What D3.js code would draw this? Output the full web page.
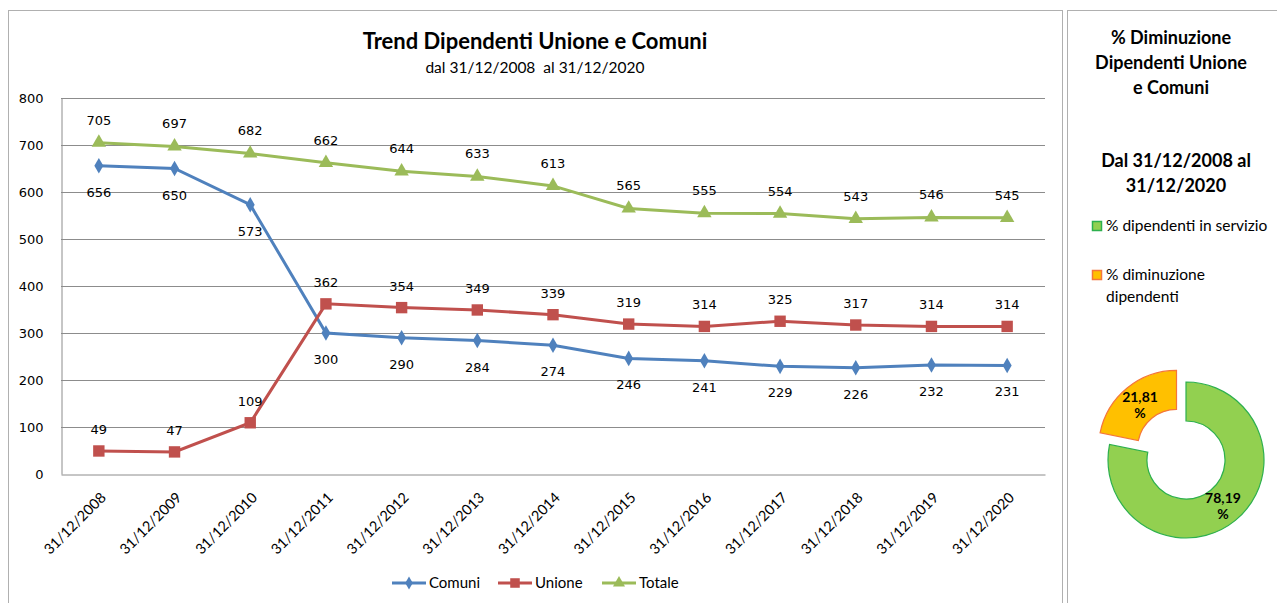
<!DOCTYPE html>
<html>
<head>
<meta charset="utf-8">
<script src="https://cdn.jsdelivr.net/npm/d3@7"></script>
<style>
  body { margin: 0; background: #fff; }
  svg { display: block; }
  text { font-family: "DejaVu Sans", Verdana, sans-serif; fill: #000; }
  .ttl { font-family: Lato, "Open Sans", sans-serif; font-weight: bold; }
  .sub { font-family: Lato, "Open Sans", sans-serif; }
</style>
</head>
<body>
<svg id="chart" width="1277" height="603"></svg>
<script>
// dates on x axis
const dates = ["31/12/2008","31/12/2009","31/12/2010","31/12/2011","31/12/2012","31/12/2013",
  "31/12/2014","31/12/2015","31/12/2016","31/12/2017","31/12/2018","31/12/2019","31/12/2020"];
const comuni = [656, 650, 573, 300, 290, 284, 274, 246, 241, 229, 226, 232, 231];
const unione = [49, 47, 109, 362, 354, 349, 339, 319, 314, 325, 317, 314, 314];
const totale = [705, 697, 682, 662, 644, 633, 613, 565, 555, 554, 543, 546, 545];
const yTicks = [0, 100, 200, 300, 400, 500, 600, 700, 800];

// donut
const pieLabels = ["% dipendenti in servizio", "% diminuzione dipendenti"];
const pieValues = [78.19, 21.81];

const svg = d3.select("#chart");

// panel borders
svg.append("rect").attr("x", 8.5).attr("y", 10.5).attr("width", 1054).attr("height", 600)
  .attr("fill", "none").attr("stroke", "#b0b0b0");
svg.append("rect").attr("x", 1067.5).attr("y", 10.5).attr("width", 220).attr("height", 600)
  .attr("fill", "none").attr("stroke", "#b0b0b0");

// titles
svg.append("text").attr("class", "ttl").attr("x", 535).attr("y", 49)
  .attr("text-anchor", "middle").style("font-size", "22px").text("Trend Dipendenti Unione e Comuni");
svg.append("text").attr("class", "sub").attr("x", 535).attr("y", 73)
  .attr("text-anchor", "middle").style("font-size", "15.5px").style("white-space", "pre")
  .text("dal 31/12/2008  al 31/12/2020");

const margin = {left: 61, top: 98, right: 1045, bottom: 474};

let x = d3.scaleBand().domain(dates).range([margin.left, margin.right]);
let y = d3.scaleLinear().domain([0, 800]).range([margin.bottom, margin.top]);
let cx = d => x(d) + x.bandwidth() / 2;

// gridlines
svg.append("g").selectAll("line").data(yTicks.slice(1)).join("line")
  .attr("x1", margin.left).attr("x2", margin.right)
  .attr("y1", d => y(d) + 0.5).attr("y2", d => y(d) + 0.5)
  .attr("stroke", "#8c8c8c").attr("stroke-width", 1);

// y axis
let yAxis = d3.axisLeft(y).tickValues(yTicks).tickSize(0).tickPadding(18);
let gy = svg.append("g").attr("transform", "translate(" + (margin.left + 0.5) + ",0)").call(yAxis);
gy.select(".domain").attr("stroke", "#8c8c8c");
gy.selectAll("text").style("font-size", "13px").style("font-family", "DejaVu Sans").attr("fill", "#111");

// x axis
let xAxis = d3.axisBottom(x).tickSize(0);
let gx = svg.append("g").attr("transform", "translate(0," + (margin.bottom + 0.5) + ")").call(xAxis);
gx.select(".domain").attr("stroke", "#8c8c8c");
gx.selectAll("text").style("font-size", "14.5px").style("font-family", "Lato, sans-serif")
  .attr("text-anchor", "end").attr("x", 0).attr("y", 0).attr("dy", 0)
  .attr("transform", "translate(8,24) rotate(-45)");

const series = [
  {name: "Comuni", values: comuni, color: "#4F81BD", shape: d3.symbolDiamond, size: 70, dy: 31},
  {name: "Unione", values: unione, color: "#C0504D", shape: d3.symbolSquare, size: 130, dy: -17},
  {name: "Totale", values: totale, color: "#9BBB59", shape: d3.symbolTriangle, size: 90, dy: -18}
];

let line = d3.line().x((d, i) => cx(dates[i])).y(d => y(d));

series.forEach(s => {
  svg.append("path").datum(s.values).attr("d", line)
    .attr("fill", "none").attr("stroke", s.color).attr("stroke-width", 3);
  svg.append("g").selectAll("path").data(s.values).join("path")
    .attr("d", d3.symbol().type(s.shape).size(s.size))
    .attr("transform", (d, i) => "translate(" + cx(dates[i]) + "," + y(d) + ")")
    .attr("fill", s.color);
  svg.append("g").selectAll("text").data(s.values).join("text")
    .attr("x", (d, i) => cx(dates[i])).attr("y", d => y(d) + s.dy)
    .attr("text-anchor", "middle").style("font-size", "13px").text(d => d);
});

// legend
let lg = svg.append("g");
let lx = [392, 498, 602];
series.forEach((s, i) => {
  lg.append("line").attr("x1", lx[i]).attr("x2", lx[i] + 34).attr("y1", 583).attr("y2", 583)
    .attr("stroke", s.color).attr("stroke-width", 3);
  lg.append("path").attr("d", d3.symbol().type(s.shape).size(s.size * 0.7))
    .attr("transform", "translate(" + (lx[i] + 17) + ",583)").attr("fill", s.color);
  lg.append("text").attr("class", "sub").attr("x", lx[i] + 37).attr("y", 588)
    .style("font-size", "15px").text(s.name);
});

// right panel text
let rt = ["% Diminuzione", "Dipendenti Unione", "e Comuni"];
svg.append("g").selectAll("text").data(rt).join("text").attr("class", "ttl")
  .attr("x", 1171).attr("y", (d, i) => 44 + i * 25).attr("text-anchor", "middle")
  .style("font-size", "18px").text(d => d);
let rt2 = ["Dal 31/12/2008 al", "31/12/2020"];
svg.append("g").selectAll("text").data(rt2).join("text").attr("class", "ttl")
  .attr("x", 1176).attr("y", (d, i) => 167 + i * 25).attr("text-anchor", "middle")
  .style("font-size", "18px").text(d => d);

const pieFill = ["#92D050", "#FFC000"];
const pieStroke = ["#2DB04E", "#F4763A"];

// pie legend
svg.append("rect").attr("x", 1092.5).attr("y", 221.5).attr("width", 9).attr("height", 9)
  .attr("fill", pieFill[0]).attr("stroke", pieStroke[0]).attr("stroke-width", 1.5);
svg.append("text").attr("class", "sub").attr("x", 1106).attr("y", 231).style("font-size", "15.5px")
  .text(pieLabels[0]);
svg.append("rect").attr("x", 1092.5).attr("y", 270.5).attr("width", 9).attr("height", 9)
  .attr("fill", pieFill[1]).attr("stroke", pieStroke[1]).attr("stroke-width", 1.5);
svg.append("text").attr("class", "sub").attr("x", 1106).attr("y", 280).style("font-size", "15.5px")
  .text("% diminuzione");
svg.append("text").attr("class", "sub").attr("x", 1106).attr("y", 302).style("font-size", "15.5px")
  .text("dipendenti");

// donut
let pie = d3.pie().sort(null)(pieValues);
let arc = d3.arc().innerRadius(39).outerRadius(78);
let pg = svg.append("g").attr("transform", "translate(1186,460)");
pie.forEach((p, i) => {
  let mid = (p.startAngle + p.endAngle) / 2;
  let off = i === 1 ? 15 : 0;
  let ox = Math.sin(mid) * off, oy = -Math.cos(mid) * off;
  let g = pg.append("g").attr("transform", "translate(" + ox + "," + oy + ")");
  g.append("path").attr("d", arc(p)).attr("fill", pieFill[i])
    .attr("stroke", pieStroke[i]).attr("stroke-width", 1.2);
});
// donut value labels
let lblPos = [[37, 43], [-46, -58]];
pieValues.forEach((v, i) => {
  let t = pg.append("text").attr("text-anchor", "middle").style("font-size", "14px")
    .style("font-weight", "bold").style("font-family", "Lato, sans-serif");
  t.append("tspan").attr("x", lblPos[i][0]).attr("y", lblPos[i][1])
    .text(v.toFixed(2).replace(".", ","));
  t.append("tspan").attr("x", lblPos[i][0]).attr("y", lblPos[i][1] + 16).text("%");
});
</script>
</body>
</html>
